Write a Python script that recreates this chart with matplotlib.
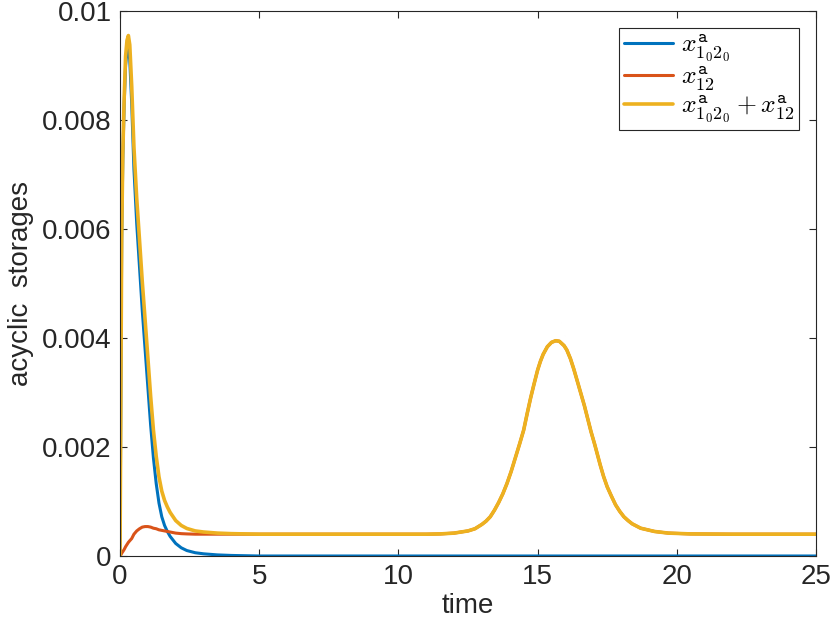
import numpy as np
import matplotlib
matplotlib.use("Agg")
import matplotlib.pyplot as plt

# values
t = [0, 0.03, 0.06, 0.1, 0.15, 0.2, 0.25, 0.3, 0.35, 0.42, 0.5, 0.6, 0.7, 0.8,
     0.9, 1.0, 1.1, 1.2, 1.3, 1.4, 1.5, 1.6, 1.7, 1.8, 2.0, 2.2, 2.4, 2.7, 3.0,
     3.5, 4.0, 5.0, 7.0, 9.0, 11.0, 11.5, 12.0, 12.25, 12.5, 12.75, 13.0, 13.15,
     13.3, 13.45, 13.6, 13.75, 13.9, 14.05, 14.2, 14.35, 14.5, 14.62, 14.75,
     14.87, 15.0, 15.1, 15.2, 15.35, 15.5, 15.65, 15.78, 15.95, 16.05, 16.18,
     16.3, 16.42, 16.55, 16.68, 16.8, 16.92, 17.05, 17.15, 17.25, 17.37, 17.5,
     17.65, 17.8, 17.95, 18.1, 18.25, 18.4, 18.55, 18.7, 18.95, 19.2, 19.7,
     20.5, 22.0, 25.0]

x_1020 = [0, 0.0030, 0.0058, 0.0073, 0.0083, 0.0090, 0.00925, 0.00930, 0.0091,
          0.0083, 0.0071, 0.0061, 0.0053, 0.0045, 0.0038, 0.0031, 0.0024,
          0.0018, 0.00133, 0.00097, 0.00072, 0.00056, 0.00045, 0.00036,
          0.00023, 0.00015, 0.00010, 0.00006, 0.00004, 0.00002, 0.00001] + [0] * 58

x_12 = [0, 0.00002, 0.00005, 0.00008, 0.00012, 0.00017, 0.00021, 0.00025,
        0.00028, 0.00032, 0.00040, 0.00046, 0.00050, 0.00053, 0.00054,
        0.00054, 0.00053, 0.00051, 0.00050, 0.00048, 0.00047, 0.00046,
        0.00045, 0.00044, 0.00042, 0.00041, 0.000405, 0.0004, 0.0004,
        0.0004, 0.0004, 0.0004, 0.0004, 0.0004, 0.0004, 0.000405, 0.00042,
        0.00044, 0.00046, 0.0005, 0.00058, 0.00064, 0.00072, 0.00084, 0.00098,
        0.00114, 0.00133, 0.00155, 0.0018, 0.00205, 0.00231, 0.0026, 0.0029,
        0.00315, 0.00341, 0.00357, 0.0037, 0.00384, 0.00392, 0.00395, 0.00394,
        0.00386, 0.00378, 0.00362, 0.00343, 0.00322, 0.00299, 0.00276, 0.00252,
        0.00228, 0.00205, 0.00186, 0.00167, 0.00146, 0.00127, 0.0011, 0.00094,
        0.00082, 0.00072, 0.00065, 0.00059, 0.00055, 0.00051, 0.00048, 0.00045,
        0.00042, 0.000405, 0.0004, 0.0004]

x_ticks = [0, 5, 10, 15, 20, 25]
y_ticks = [0, 0.002, 0.004, 0.006, 0.008, 0.01]
y_tick_labels = ['0', '0.002', '0.004', '0.006', '0.008', '0.01']

plt.rcParams['font.family'] = ['Liberation Sans', 'DejaVu Sans']
plt.rcParams['mathtext.fontset'] = 'cm'

fig = plt.figure(figsize=(8.3, 6.36), dpi=100)
ax = fig.add_axes([0.1446, 0.1258, 0.8385, 0.8569])

total = np.array(x_1020) + np.array(x_12)
style = dict(solid_joinstyle='round', solid_capstyle='round')
ax.plot(t, x_1020, color='#0072BD', lw=2.2, label=r'$x^{\mathtt{a}}_{1_0 2_0}$', **style)
ax.plot(t, x_12, color='#D95319', lw=2.2, label=r'$x^{\mathtt{a}}_{12}$', **style)
ax.plot(t, total, color='#EDB120', lw=2.6,
        label=r'$x^{\mathtt{a}}_{1_0 2_0} + x^{\mathtt{a}}_{12}$', **style)

ax.set_xlim(0, 25)
ax.set_ylim(0, 0.01)
ax.set_xticks(x_ticks)
ax.set_yticks(y_ticks)
ax.set_yticklabels(y_tick_labels)
ax.tick_params(direction='in', top=True, right=True, length=5, width=0.8,
               labelsize=20, colors='#262626', pad=6)
for s in ax.spines.values():
    s.set_color('#262626')
    s.set_linewidth(0.8)

ax.set_xlabel('time', fontsize=20, color='#262626', labelpad=2)
ax.set_ylabel('acyclic  storages', fontsize=20, color='#262626', labelpad=6)

leg = ax.legend(loc='upper right', fontsize=18.5, fancybox=False, framealpha=1,
                edgecolor='#262626', handlelength=1.9, handletextpad=0.3,
                labelspacing=0.02, borderpad=0.2, borderaxespad=0.65)
leg.get_frame().set_linewidth(0.8)

fig.savefig('out.png', dpi=100)
